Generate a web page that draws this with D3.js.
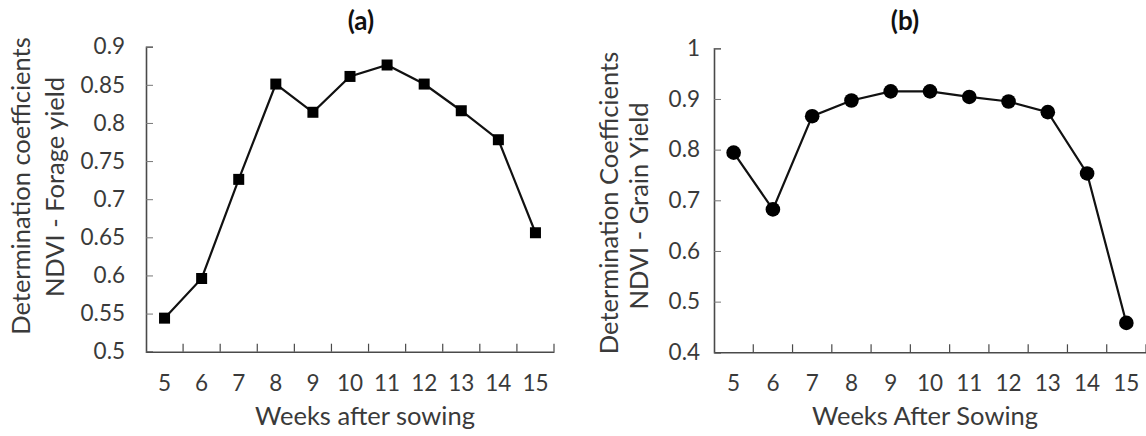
<!DOCTYPE html>
<html><head><meta charset="utf-8">
<script src="https://cdn.jsdelivr.net/npm/d3@7"></script>
<style>body{margin:0;background:#fff}svg{display:block}text{font-family:Lato,"Open Sans",sans-serif;fill:#3a3a3a}</style>
</head><body>
<svg id="c" width="1146" height="436"></svg>
<script>
const weeks = ["5","6","7","8","9","10","11","12","13","14","15"];
const forageR2 = [0.544,0.596,0.726,0.851,0.814,0.861,0.876,0.851,0.816,0.778,0.656];
const grainR2 = [0.794,0.682,0.866,0.897,0.915,0.915,0.904,0.895,0.874,0.753,0.458];
const ticksA = [0.5,0.55,0.6,0.65,0.7,0.75,0.8,0.85,0.9];
const ticksB = [0.4,0.5,0.6,0.7,0.8,0.9,1];
const labelsA = {title:"(a)", y1:"Determination coefficients", y2:"NDVI  - Forage yield", x:"Weeks after sowing"};
const labelsB = {title:"(b)", y1:"Determination Coefficients", y2:"NDVI - Grain Yield", x:"Weeks After Sowing"};

const svg = d3.select("#c");
const TICKFS = 22.5, TITLEFS = 25.5;

function panel(cfg){
  const g = svg.append("g");
  const x = d3.scaleBand().domain(weeks).range([cfg.x0, cfg.x1]);
  const y = d3.scaleLinear().domain(cfg.dom).range([cfg.yb, cfg.yt]);
  const ya = g.append("g").attr("transform",`translate(${cfg.x0},0)`)
    .call(d3.axisLeft(y).tickValues(cfg.ticks).tickSize(-7).tickPadding(cfg.tpad).tickFormat(d=>String(+d.toFixed(2))));
  ya.select(".domain").attr("stroke","#4a4a4a").attr("stroke-width",1.6);
  ya.selectAll(".tick line").attr("stroke","#777").attr("stroke-width",1);
  ya.selectAll(".tick text").attr("font-size",TICKFS).style("fill","#3a3a3a").style("font-family","Lato");
  const xa = g.append("g").attr("transform",`translate(0,${cfg.yb})`)
    .call(d3.axisBottom(x).tickSize(0).tickPadding(23));
  xa.select(".domain").attr("stroke","#4a4a4a").attr("stroke-width",1.6);
  xa.selectAll(".tick text").attr("font-size",TICKFS).style("fill","#3a3a3a").style("font-family","Lato");
  g.selectAll(".bt").data(weeks.slice(1).concat(["end"])).join("line")
    .attr("x1",d=> d==="end"? x.range()[1] : x(d)).attr("x2",d=> d==="end"? x.range()[1] : x(d))
    .attr("y1",cfg.yb).attr("y2",cfg.yb-8).attr("stroke","#4a4a4a").attr("stroke-width",1.2);
  const line = d3.line().x((d,i)=>x(weeks[i])+x.bandwidth()/2).y(d=>y(d));
  g.append("path").datum(cfg.vals).attr("d",line).attr("fill","none").attr("stroke","#111").attr("stroke-width",2.2);
  if(cfg.marker==="square"){
    g.selectAll(".m").data(cfg.vals).join("rect")
      .attr("x",(d,i)=>x(weeks[i])+x.bandwidth()/2-5.5).attr("y",d=>y(d)-5.5)
      .attr("width",11).attr("height",11).attr("fill","#000");
  } else {
    g.selectAll(".m").data(cfg.vals).join("circle")
      .attr("cx",(d,i)=>x(weeks[i])+x.bandwidth()/2).attr("cy",d=>y(d)).attr("r",7.3).attr("fill","#000");
  }
  g.append("text").attr("x",cfg.tx).attr("y",30).attr("text-anchor","middle")
    .attr("font-size",26).attr("font-weight","bold").style("fill","#111").text(cfg.lab.title);
  g.append("text").attr("x",cfg.xlx).attr("y",425).attr("text-anchor","middle")
    .attr("font-size",TITLEFS).text(cfg.lab.x);
  g.append("text").attr("transform",`translate(${cfg.y1x},${cfg.ycy1}) rotate(-90)`).attr("text-anchor","middle")
    .attr("font-size",TITLEFS).text(cfg.lab.y1);
  g.append("text").attr("transform",`translate(${cfg.y2x},${cfg.ycy2}) rotate(-90)`).attr("text-anchor","middle")
    .attr("font-size",TITLEFS).text(cfg.lab.y2);
}

panel({x0:146,x1:554,yb:351.7,yt:46.7,dom:[0.5,0.9],ticks:ticksA,tpad:21,vals:forageR2,marker:"square",
  lab:labelsA,tx:361,xlx:365,y1x:30,y2x:63.5,ycy1:186,ycy2:187});
panel({x0:714,x1:1146,yb:352.3,yt:48.3,dom:[0.4,1],ticks:ticksB,tpad:14,vals:grainR2,marker:"circle",
  lab:labelsB,tx:905,xlx:925,y1x:617.5,y2x:648,ycy1:203,ycy2:206});
</script>
</body></html>
